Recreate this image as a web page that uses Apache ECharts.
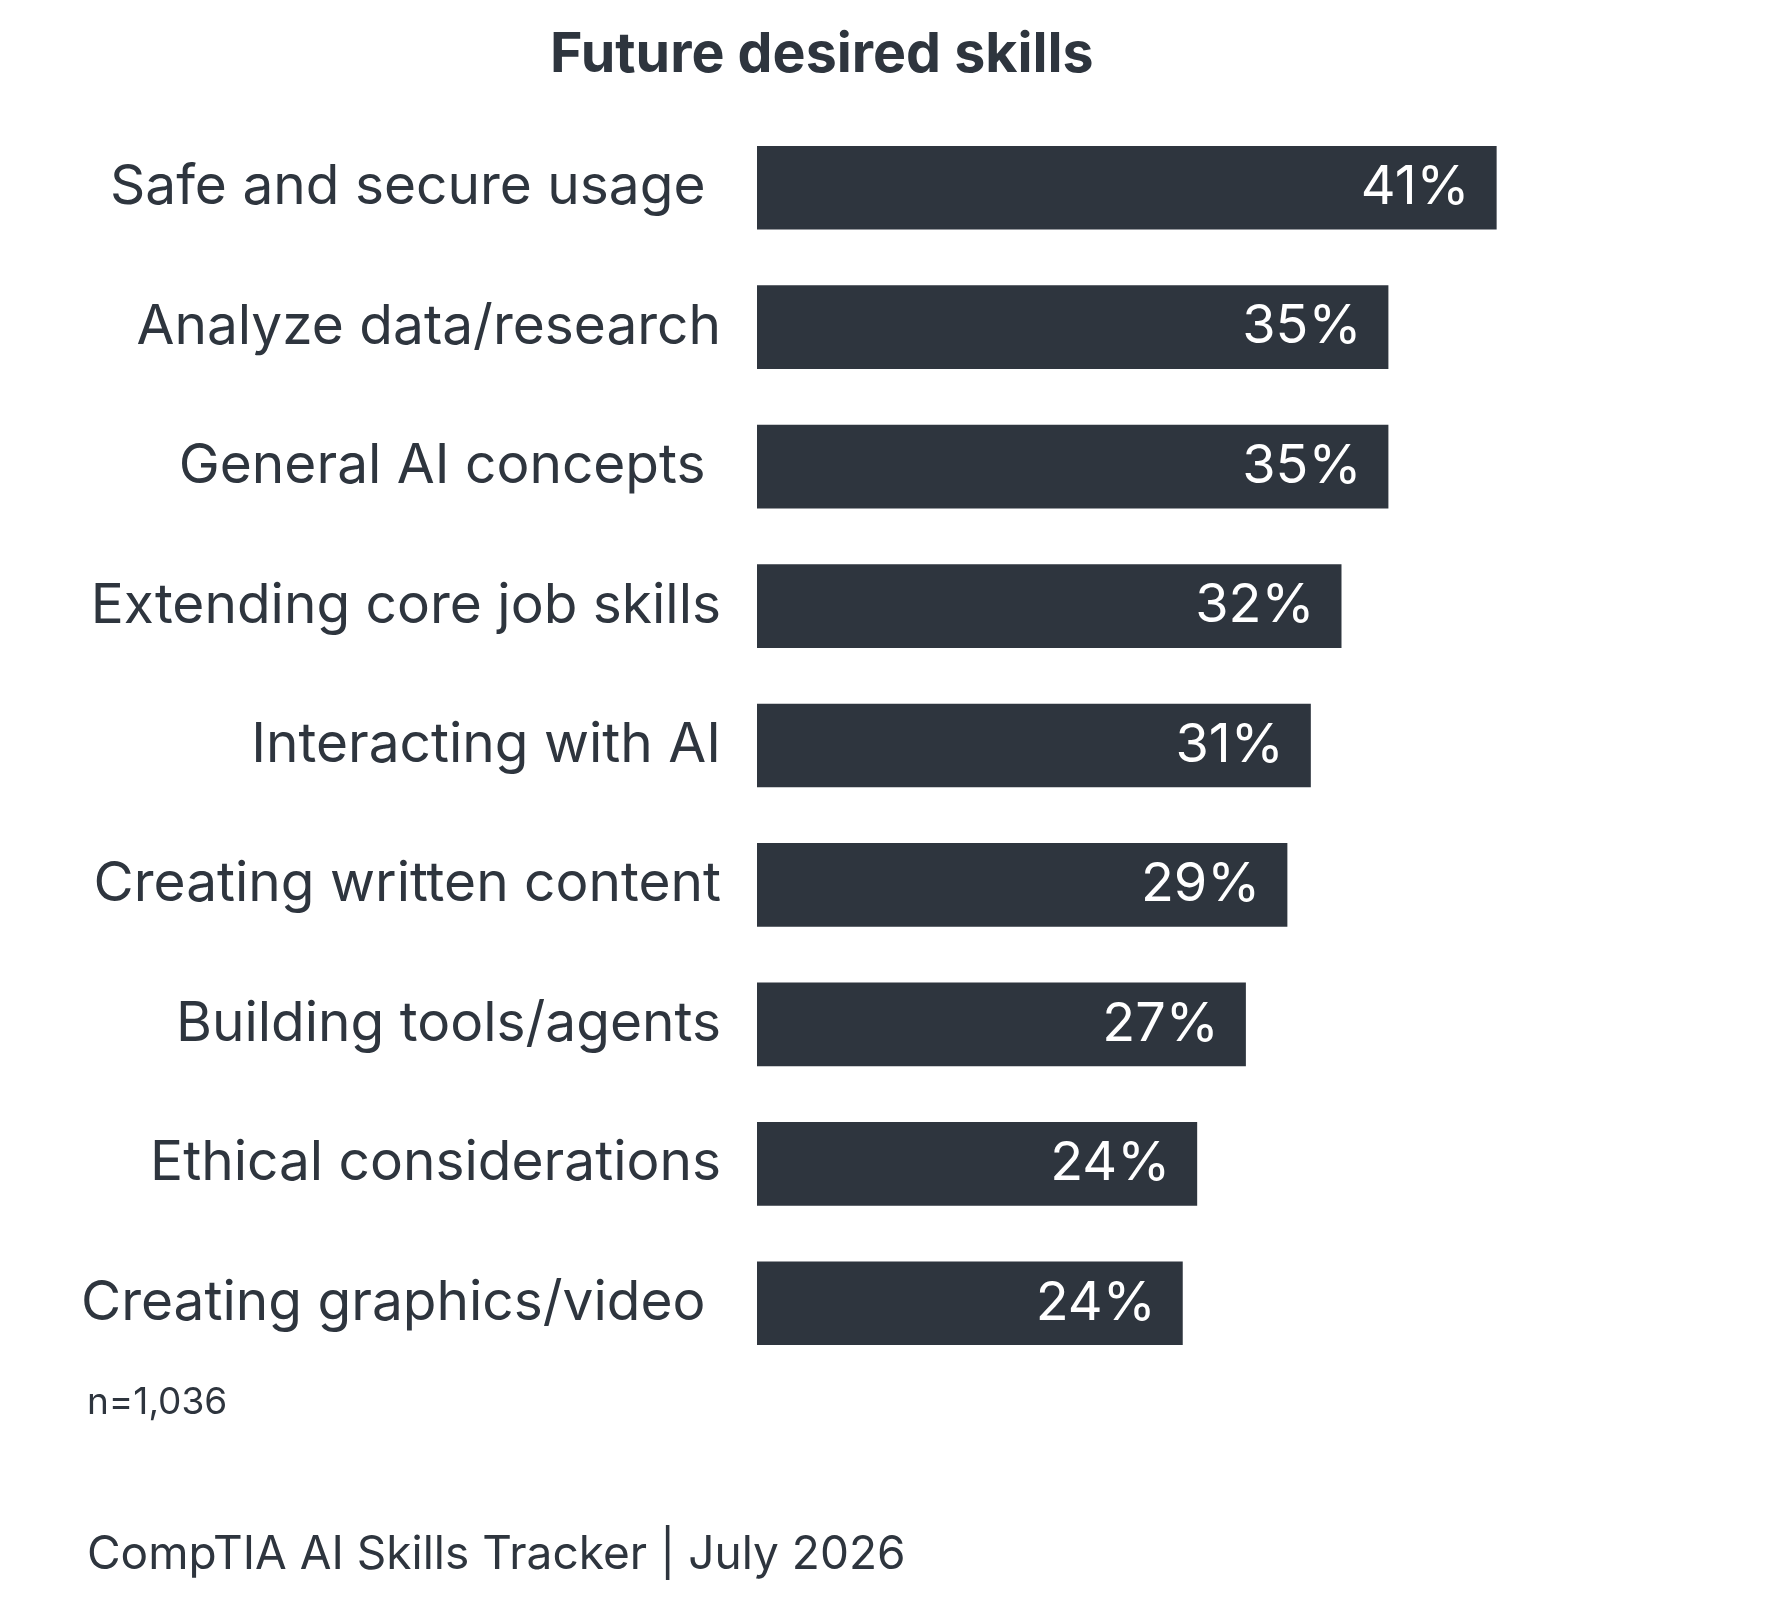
<!DOCTYPE html>
<html lang="en">
  <head>
    <meta charset="UTF-8" />
    <title>Future desired skills</title>
    <script src="https://cdn.jsdelivr.net/npm/echarts@6/dist/echarts.min.js"></script>
    <style>
      html, body { margin: 0; padding: 0; background: #fff; }
    </style>
  </head>
  <body>
    <div id="main" style="width: 1769px; height: 1607px"></div>

    <script>
      // 数据：技能类别（有的带尾随空格，和原图对齐方式一致）
      const skills = [
        'Safe and secure usage ',
        'Analyze data/research',
        'General AI concepts ',
        'Extending core job skills',
        'Interacting with AI',
        'Creating written content',
        'Building tools/agents',
        'Ethical considerations',
        'Creating graphics/video ',
      ]
      // 百分比（按图上条形长度估读）
      const shares = [41, 35, 35, 32.4, 30.7, 29.4, 27.1, 24.4, 23.6]

      const ink = '#2e353e'
      const font = 'Inter'

      const chartDom = document.getElementById('main')
      const myChart = echarts.init(chartDom)

      const options = {
        backgroundColor: '#fff',
        animation: false,
        title: {
          text: 'Future desired skills',
          left: 545,
          top: 22,
          textStyle: {
            color: ink,
            fontFamily: font,
            fontWeight: 700,
            fontSize: 55.5,
          },
        },
        grid: {
          left: 757,
          right: 110,
          top: 118,
          height: 1255,
        },
        xAxis: {
          type: 'value',
          min: 0,
          max: 50,
          show: false,
        },
        yAxis: {
          type: 'category',
          inverse: true,
          data: skills,
          axisLine: { show: false },
          axisTick: { show: false },
          splitLine: { show: false },
          axisLabel: {
            margin: 36,
            color: ink,
            fontFamily: font,
            fontSize: 55,
          },
        },
        series: [
          {
            type: 'bar',
            data: shares,
            barCategoryGap: '40%',
            itemStyle: { color: ink },
            label: {
              show: true,
              position: 'insideRight',
              distance: 27,
              color: '#fff',
              fontFamily: font,
              fontSize: 54,
              formatter: p => Math.round(p.value) + '%',
            },
          },
        ],
        graphic: [
          {
            type: 'text',
            left: 87,
            top: 1384,
            style: {
              text: 'n=1,036',
              fill: ink,
              font: '37px Inter',
            },
          },
          {
            type: 'text',
            left: 87,
            top: 1532,
            style: {
              text: 'CompTIA AI Skills Tracker | July 2026',
              fill: ink,
              font: '46px Inter',
            },
          },
        ],
      }

      myChart.setOption(options)
    </script>
  </body>
</html>
